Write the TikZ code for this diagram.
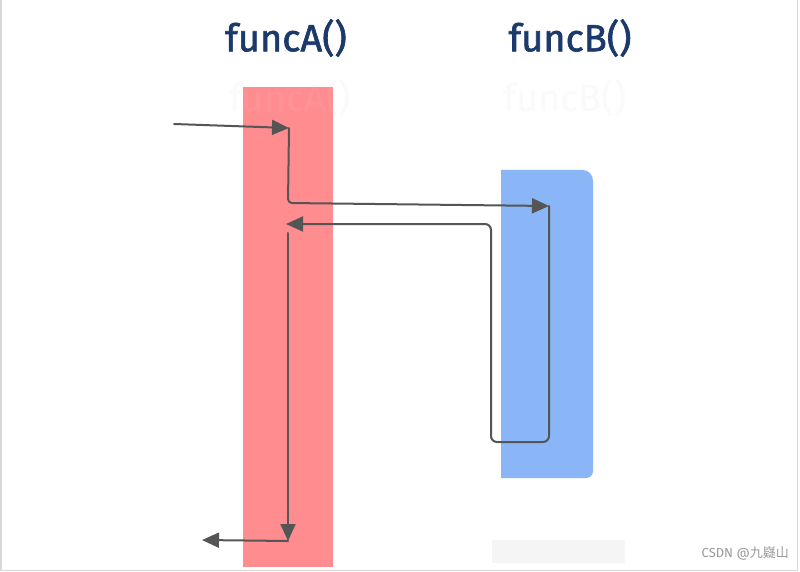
\documentclass[tikz,border=0pt]{standalone}
\usepackage{fontspec}
\setmainfont{Fira Sans}
\newfontfamily\titlefont[FakeBold=1.6]{Fira Sans}
\newfontfamily\cjk{Noto Sans CJK SC}
\usetikzlibrary{arrows.meta}
\definecolor{barred}{HTML}{FF8D90}
\definecolor{barblue}{HTML}{8AB6F7}
\definecolor{titleblue}{HTML}{1B3A6B}
\definecolor{flow}{HTML}{555555}
\definecolor{frameg}{HTML}{D8D8D8}
\tikzset{
  title/.style={text=titleblue, font=\titlefont\fontsize{38}{40}\selectfont, inner sep=0pt},
  ghost/.style={text=black!2, font=\fontsize{38}{40}\selectfont, inner sep=0pt},
  flowline/.style={draw=flow, line width=2pt, line cap=round, line join=round},
  flowarrow/.style={flowline, -{Triangle[length=17pt,width=15pt]}},
  bar/.style={inner sep=0pt, outer sep=0pt, draw=none}
}
\begin{document}
\begin{tikzpicture}[x=1pt,y=-1pt]
\useasboundingbox (0,0) rectangle (800,572);
\fill[white] (0,0) rectangle (800,572);
\draw[frameg, line width=1.5pt] (0.75,0) -- (0.75,570.5) -- (797.5,570.5) -- (797.5,0);
% ghost texts
\node[ghost] (ghostB) at (565,98) {funcB()};
\node[ghost] (ghostA0) at (290,98) {funcA()};
% bars
\node[bar, fill=barred, minimum width=90pt, minimum height=480pt] (barA) at (288,327) {};
\path[fill=barblue] (501,170) -- (583,170) to[out=0,in=90] (593,181) -- (593,471) to[out=-90,in=0] (586,478) -- (501,478) -- cycle;
\node[bar, minimum width=92pt, minimum height=308pt] (barB) at (547,324) {};
\node[ghost, text=white, opacity=0.05] (ghostA) at (290,98) {funcA()};
% mosaic
\fill[black!4] (492,540) rectangle (625,563);
% titles
\node[title] (tA) at (286,38) {funcA()};
\node[title] (tB) at (570,38) {funcB()};
% coordinates
\coordinate (in0) at (174,124);
\coordinate (a1) at (289,128);
\coordinate (k1) at (288,203);
\coordinate (b1) at (549,206);
\coordinate (b2) at (549,442);
\coordinate (c1) at (491,442);
\coordinate (c2) at (491,224);
\coordinate (a2) at (286,224);
\coordinate (a3) at (288,233);
\coordinate (a4) at (288,541);
\coordinate (out) at (202,540);
% connectors
\draw[flowarrow] (in0) -- (a1);
\draw[flowarrow, rounded corners=4pt] (a1) -- (k1) -- (b1);
\draw[flowarrow, rounded corners=6pt] (b1) -- (b2) -- (c1) -- (c2) -- (a2);
\draw[flowarrow] (a3) -- (a4);
\draw[flowarrow] (a4) -- (out);
% watermark
\node[text=black!40, font=\fontsize{13}{14}\selectfont, anchor=east, inner sep=0pt] (wm) at (789,553) {CSDN @{\cjk 九嶷山}};
\end{tikzpicture}
\end{document}
